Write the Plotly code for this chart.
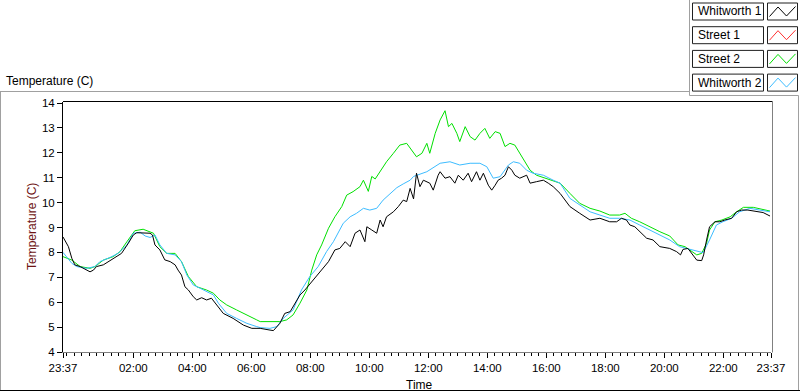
import plotly.graph_objects as go

# ---------------- data ----------------
series_names = ["Whitworth 1", "Street 1", "Street 2", "Whitworth 2"]
series_colors = ["#000000", "#ff3030", "#00e000", "#3cbcff"]

w1_time = ["23:37","23:48","23:55","00:01","00:12","00:25","00:32","00:39","00:45","00:59",
           "01:19","01:36","01:50","02:00","02:07","02:20","02:34","02:39","02:44","02:54",
           "03:04","03:15","03:25","03:31","03:38","03:45","03:52","04:02","04:09","04:19",
           "04:29","04:39","04:50","05:03","05:23","05:44","06:01","06:18","06:38","06:45",
           "06:58","07:08","07:19","07:29","07:39","07:49","08:03","08:13","08:23","08:37",
           "08:50","09:00","09:11","09:21","09:31","09:41","09:51","09:55","10:05","10:15",
           "10:22","10:28","10:35","10:49","10:59","11:09","11:16","11:23","11:30","11:36",
           "11:43","11:50","12:03","12:10","12:20","12:24","12:34","12:44","12:54","13:01",
           "13:11","13:21","13:28","13:38","13:45","13:52","14:02","14:09","14:16","14:22",
           "14:29","14:36","14:43","14:50","14:56","15:06","15:20","15:27","15:40","15:54",
           "16:04","16:14","16:28","16:48","17:08","17:29","17:49","18:09","18:23","18:33",
           "18:43","18:50","19:00","19:10","19:24","19:37","19:51","20:11","20:25","20:33",
           "20:38","20:48","20:55","21:06","21:16","21:20","21:26","21:32","21:43","21:53",
           "22:03","22:17","22:27","22:37","22:50","23:07","23:21","23:35"]
w1_temp = [8.62,8.23,7.76,7.50,7.43,7.29,7.22,7.29,7.43,7.50,
           7.76,7.96,8.37,8.70,8.79,8.77,8.77,8.70,8.30,8.10,
           7.70,7.63,7.50,7.29,7.09,6.62,6.49,6.22,6.09,6.18,
           6.09,6.16,5.89,5.55,5.35,5.08,4.95,4.95,4.88,4.86,
           5.15,5.55,5.62,5.96,6.29,6.49,6.82,7.09,7.29,7.63,
           8.10,8.16,8.43,8.23,8.77,8.90,8.43,9.03,8.90,8.77,
           9.30,9.03,9.43,9.63,9.84,10.10,10.04,10.57,10.15,11.18,
           10.64,10.90,10.78,10.50,11.10,11.24,10.98,11.04,10.78,11.10,
           10.90,11.18,10.84,11.24,10.90,11.18,10.70,10.50,10.70,10.90,
           10.98,11.10,11.44,11.30,11.10,10.98,11.10,10.78,10.84,10.90,
           10.78,10.64,10.37,9.84,9.57,9.30,9.37,9.23,9.23,9.37,
           9.30,9.10,9.03,8.83,8.57,8.50,8.23,8.16,8.03,7.90,
           8.12,8.16,7.96,7.69,7.67,7.90,8.50,9.03,9.23,9.23,
           9.30,9.37,9.63,9.70,9.70,9.63,9.60,9.46]

s1_time = []   # Street 1: no samples visible in the chart
s1_temp = []

s2_time = ["23:37","23:55","00:12","00:32","00:42","00:59","01:19","01:33","01:47","02:03",
           "02:20","02:41","02:54","03:08","03:25","03:38","03:52","04:09","04:29","04:43",
           "04:56","05:10","05:30","05:51","06:11","06:18","06:38","06:58","07:12","07:25",
           "07:39","07:53","08:03","08:13","08:23","08:37","08:50","09:04","09:14","09:27",
           "09:41","09:48","09:58","10:05","10:12","10:22","10:35","10:49","11:02","11:16",
           "11:26","11:36","11:47","11:57","12:03","12:14","12:24","12:34","12:41","12:48",
           "12:58","13:04","13:15","13:25","13:35","13:45","13:55","14:05","14:16","14:26",
           "14:36","14:46","14:56","15:06","15:17","15:27","15:40","15:54","16:07","16:28",
           "16:48","17:08","17:29","17:49","18:09","18:29","18:40","18:53","19:10","19:30",
           "19:51","20:11","20:28","20:42","20:52","21:06","21:16","21:26","21:32","21:43",
           "21:57","22:14","22:27","22:41","23:01","23:21","23:35"]
s2_temp = [7.83,7.69,7.43,7.36,7.43,7.69,7.83,8.03,8.43,8.87,
           8.93,8.77,8.23,7.96,7.96,7.63,7.03,6.62,6.49,6.36,
           6.09,5.89,5.69,5.50,5.29,5.22,5.22,5.22,5.29,5.49,
           5.96,6.49,7.29,7.90,8.30,8.97,9.43,9.84,10.30,10.44,
           10.64,10.90,10.45,11.05,10.95,11.24,11.64,11.98,12.31,12.38,
           12.11,11.84,11.98,12.38,11.98,12.78,13.32,13.69,13.05,13.18,
           12.78,12.45,13.05,12.65,12.51,12.78,12.98,12.58,12.85,12.78,
           12.25,12.38,12.31,11.98,11.58,11.30,11.10,11.01,10.90,10.78,
           10.37,9.97,9.77,9.66,9.50,9.50,9.57,9.37,9.23,9.03,
           8.83,8.66,8.30,8.23,8.10,7.90,7.96,8.37,8.90,9.23,
           9.30,9.43,9.63,9.81,9.81,9.73,9.66]

w2_time = ["23:37","23:55","00:05","00:25","00:42","00:52","01:13","01:29","01:47","02:00",
           "02:14","02:24","02:34","02:44","02:54","03:08","03:25","03:38","03:49","04:02",
           "04:16","04:29","04:43","04:53","05:10","05:30","05:51","06:11","06:18","06:38",
           "06:52","07:05","07:25","07:42","07:59","08:16","08:33","08:47","09:07","09:21",
           "09:34","09:48","10:01","10:15","10:28","10:42","10:56","11:09","11:23","11:30",
           "11:57","12:24","12:44","13:04","13:25","13:45","13:59","14:12","14:26","14:43",
           "14:53","15:06","15:20","15:33","15:54","16:14","16:28","16:48","17:08","17:29",
           "17:49","18:09","18:29","18:50","19:10","19:30","19:51","20:11","20:31","20:45",
           "21:06","21:19","21:32","21:46","21:59","22:17","22:33","22:54","23:14","23:35"]
w2_temp = [8.00,7.56,7.43,7.36,7.43,7.63,7.80,7.96,8.30,8.77,
           8.81,8.66,8.60,8.70,8.30,7.96,7.90,7.63,7.09,6.69,
           6.56,6.42,6.29,5.96,5.55,5.35,5.15,5.02,4.98,4.95,
           5.02,5.35,5.69,6.49,7.03,7.43,8.03,8.43,9.17,9.43,
           9.57,9.77,9.70,9.77,10.10,10.35,10.60,10.75,10.90,11.05,
           11.24,11.58,11.64,11.51,11.58,11.58,11.44,10.98,11.04,11.51,
           11.64,11.58,11.30,11.18,11.10,10.90,10.78,10.17,9.90,9.63,
           9.50,9.37,9.37,9.30,9.10,8.90,8.70,8.50,8.23,8.16,
           8.03,7.99,8.50,9.10,9.23,9.37,9.63,9.77,9.70,9.63]

x_tick_labels = ["23:37","02:00","04:00","06:00","08:00","10:00","12:00",
                 "14:00","16:00","18:00","20:00","22:00","23:37"]
y_ticks = [4, 5, 6, 7, 8, 9, 10, 11, 12, 13, 14]

# ---------------- helpers ----------------
START = "23:37"

def to_dt(s, end=False):
    h, m = map(int, s.split(":"))
    day = 1 if (h * 60 + m >= 23 * 60 + 37 and not end) else 2
    return f"2013-07-0{day} {s}:00"

def to_dts(lst):
    return [to_dt(s) for s in lst]

tickvals = [to_dt(s) for s in x_tick_labels[:-1]] + [to_dt(x_tick_labels[-1], end=True)]

# layout geometry (pixels)
FW, FH = 800, 392
ML, MR, MT, MB = 63, 29, 102, 40
PW = FW - ML - MR
PH = FH - MT - MB

def px(x):
    return (x - ML) / PW

def py(y):
    return (FH - MB - y) / PH

FONT = "Liberation Sans, Arial, sans-serif"

# ---------------- figure ----------------
fig = go.Figure()
all_times = [w1_time, s1_time, s2_time, w2_time]
all_temps = [w1_temp, s1_temp, s2_temp, w2_temp]
# draw order: street 2 beneath, then whitworth 2, then whitworth 1 on top
for idx in [1, 2, 3, 0]:
    fig.add_trace(go.Scatter(
        x=to_dts(all_times[idx]), y=all_temps[idx], mode="lines",
        name=series_names[idx], line=dict(color=series_colors[idx], width=1),
        showlegend=False))

shapes = []
annotations = []
GRAY = "#a0a0a0"

# outer frame
shapes.append(dict(type="line", xref="paper", yref="paper", x0=px(0), x1=px(689.5), y0=py(91.5), y1=py(91.5), line=dict(color=GRAY, width=1)))
shapes.append(dict(type="line", xref="paper", yref="paper", x0=px(0.5), x1=px(0.5), y0=py(91.5), y1=py(390), line=dict(color=GRAY, width=1)))
shapes.append(dict(type="line", xref="paper", yref="paper", x0=px(0), x1=px(800), y0=py(390.5), y1=py(390.5), line=dict(color="#000000", width=1)))
# legend panel frame
shapes.append(dict(type="line", xref="paper", yref="paper", x0=px(689.5), x1=px(689.5), y0=py(0), y1=py(95.5), line=dict(color=GRAY, width=1)))
shapes.append(dict(type="line", xref="paper", yref="paper", x0=px(689.5), x1=px(798.5), y0=py(95.5), y1=py(95.5), line=dict(color=GRAY, width=1)))
shapes.append(dict(type="line", xref="paper", yref="paper", x0=px(798.5), x1=px(798.5), y0=py(95.5), y1=py(390), line=dict(color=GRAY, width=1)))
# plot border (top black, right gray)
shapes.append(dict(type="line", xref="paper", yref="paper", x0=px(63), x1=px(772.5), y0=py(101.5), y1=py(101.5), line=dict(color="#000000", width=1)))
shapes.append(dict(type="line", xref="paper", yref="paper", x0=px(772.5), x1=px(772.5), y0=py(101.5), y1=py(352.5), line=dict(color="#808080", width=1)))

# custom legend
for i, (nm, col) in enumerate(zip(series_names, series_colors)):
    top = 3 + i * 23.7
    bot = top + 17
    shapes.append(dict(type="rect", xref="paper", yref="paper", x0=px(692.5), x1=px(763.5), y0=py(bot), y1=py(top),
                       line=dict(color="#202020", width=1), fillcolor="white"))
    shapes.append(dict(type="rect", xref="paper", yref="paper", x0=px(767.5), x1=px(797.5), y0=py(bot), y1=py(top),
                       line=dict(color="#202020", width=1), fillcolor="white"))
    path = (f"M {px(769.5)},{py(top+13.5)} L {px(778)},{py(top+4)} "
            f"L {px(786.5)},{py(top+13)} L {px(795.5)},{py(top+3.5)}")
    shapes.append(dict(type="path", xref="paper", yref="paper", path=path, line=dict(color=col, width=1)))
    annotations.append(dict(xref="paper", yref="paper", x=px(695.5), y=py(top + 8.5), text=nm, showarrow=False,
                            xanchor="left", yanchor="middle", font=dict(family=FONT, size=12, color="#000000")))

# titles
annotations.append(dict(xref="paper", yref="paper", x=px(4), y=py(81), text="Temperature (C)", showarrow=False,
                        xanchor="left", yanchor="middle", font=dict(family=FONT, size=12, color="#000000")))
annotations.append(dict(xref="paper", yref="paper", x=px(32), y=py(227), text="Temperature (C)", showarrow=False,
                        textangle=-90, xanchor="center", yanchor="middle", font=dict(family=FONT, size=12, color="#6e1414")))
annotations.append(dict(xref="paper", yref="paper", x=px(419), y=py(384.5), text="Time", showarrow=False,
                        xanchor="center", yanchor="middle", font=dict(family=FONT, size=12, color="#000000")))

fig.update_layout(
    width=FW, height=FH,
    margin=dict(l=ML, r=MR, t=MT, b=MB, pad=0),
    paper_bgcolor="white", plot_bgcolor="white",
    font=dict(family=FONT, size=11, color="#000000"),
    showlegend=False,
    shapes=shapes, annotations=annotations,
    xaxis=dict(
        type="date",
        range=[to_dt(START), to_dt(START, end=True)],
        tickmode="array", tickvals=tickvals, ticktext=x_tick_labels,
        ticks="outside", ticklen=5, tickcolor="#000000", tickwidth=1,
        showline=True, linecolor="#808080", linewidth=1,
        showgrid=False, zeroline=False,
        tickfont=dict(family=FONT, size=11.5, color="#000000"),
        minor=dict(ticks="outside", ticklen=3, tickcolor="#000000", tickwidth=1,
                   tick0="2013-07-02 00:00:00", dtick=15 * 60 * 1000, showgrid=False),
        fixedrange=True,
    ),
    yaxis=dict(
        range=[4, 14.04],
        tickmode="array", tickvals=y_ticks, ticktext=[str(v) for v in y_ticks],
        ticks="outside", ticklen=5, tickcolor="#000000", tickwidth=1,
        showline=True, linecolor="#000000", linewidth=1,
        showgrid=False, zeroline=False,
        tickfont=dict(family=FONT, size=11.5, color="#000000"),
        fixedrange=True,
    ),
)

fig.write_html("out.html", config={"displayModeBar": False},
               post_script="document.body.style.margin='0';document.body.style.overflow='hidden';")
